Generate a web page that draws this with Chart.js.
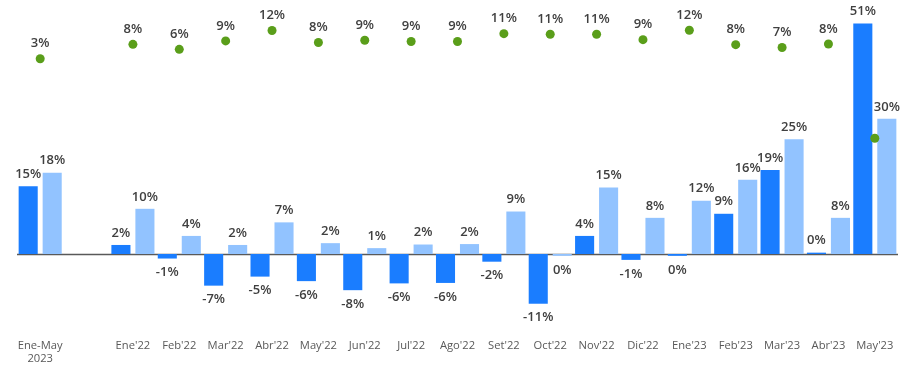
<!DOCTYPE html>
<html>
<head>
<meta charset="utf-8">
<script src="https://cdn.jsdelivr.net/npm/chart.js@4.4.1/dist/chart.umd.min.js"></script>
<style>
  html, body { margin: 0; padding: 0; background: #ffffff; }
  #wrap { width: 907px; height: 367px; }
</style>
</head>
<body>
<div id="wrap"><canvas id="c" width="907" height="367"></canvas></div>
<script>
// ---- data ----
const categories = [["Ene-May", "2023"], "", "Ene'22", "Feb'22", "Mar'22", "Abr'22", "May'22", "Jun'22", "Jul'22", "Ago'22", "Set'22", "Oct'22", "Nov'22", "Dic'22", "Ene'23", "Feb'23", "Mar'23", "Abr'23", "May'23"];
const seriesDark  = [15, null, 2, -1, -7, -5, -6, -8, -6.5, -6.4, -1.7, -11, 4, -1.3, -0.4, 8.9, 18.6, 0.3, 51];
const seriesLight = [18, null, 10, 4, 2, 7, 2.4, 1.3, 2.1, 2.2, 9.4, -0.4, 14.7, 8, 11.8, 16.4, 25.4, 8, 29.9];
const seriesDots  = [3, null, 7.6, 6, 8.7, 12, 8.2, 8.9, 8.5, 8.5, 11, 10.8, 10.8, 9.1, 12.1, 7.5, 6.6, 7.7, -22.4];
const dotsWithoutLabel = [18];

const fmt = v => `${Math.round(v)}%`;

const labelPlugin = {
  id: 'valueLabels',
  afterDatasetsDraw(chart) {
    const ctx = chart.ctx;
    ctx.save();
    ctx.font = '600 13px "Open Sans"';
    ctx.fillStyle = '#404040';
    ctx.textAlign = 'center';
    ctx.textBaseline = 'middle';
    [0, 1].forEach(di => {
      const meta = chart.getDatasetMeta(di);
      const data = chart.data.datasets[di].data;
      meta.data.forEach((el, i) => {
        const v = data[i];
        if (v === null || v === undefined) return;
        const y = v >= 0 ? el.y - 12 : el.y + 14;
        ctx.fillText(fmt(v), el.x, y);
      });
    });
    const meta = chart.getDatasetMeta(2);
    const data = chart.data.datasets[2].data;
    meta.data.forEach((el, i) => {
      const v = data[i];
      if (v === null || v === undefined) return;
      if (dotsWithoutLabel.includes(i)) return;
      ctx.fillText(fmt(v), el.x, el.y - 15);
    });
    ctx.restore();
  }
};

const zeroLinePlugin = {
  id: 'zeroLine',
  beforeDatasetsDraw(chart) {
    const ctx = chart.ctx;
    const y = Math.round(chart.scales.y.getPixelForValue(0)) + 0.5;
    ctx.save();
    ctx.strokeStyle = '#595959';
    ctx.lineWidth = 1.5;
    ctx.beginPath();
    ctx.moveTo(chart.chartArea.left, y);
    ctx.lineTo(chart.chartArea.right, y);
    ctx.stroke();
    ctx.restore();
  }
};

new Chart(document.getElementById('c'), {
  type: 'bar',
  data: {
    labels: categories,
    datasets: [
      {
        label: 'A',
        data: seriesDark,
        backgroundColor: '#1A7DFF',
        categoryPercentage: 1.035,
        barPercentage: 0.795,
        yAxisID: 'y',
        order: 2
      },
      {
        label: 'B',
        data: seriesLight,
        backgroundColor: '#92C3FF',
        categoryPercentage: 1.035,
        barPercentage: 0.795,
        yAxisID: 'y',
        order: 2
      },
      {
        type: 'line',
        label: 'C',
        data: seriesDots,
        showLine: false,
        pointRadius: 4.5,
        pointBackgroundColor: '#5A9E1A',
        pointBorderColor: '#5A9E1A',
        pointBorderWidth: 0,
        yAxisID: 'y2',
        order: 0
      }
    ]
  },
  options: {
    responsive: false,
    devicePixelRatio: 1,
    animation: false,
    layout: { autoPadding: false, padding: { left: 17, right: 9, top: 0, bottom: 0 } },
    plugins: {
      legend: { display: false },
      tooltip: { enabled: false }
    },
    scales: {
      x: {
        grid: { display: false, drawTicks: false },
        border: { display: false },
        ticks: {
          color: '#595959',
          font: { family: '"Open Sans"', size: 11.2 },
          padding: 9,
          maxRotation: 0,
          autoSkip: false
        },
        afterFit(axis) { axis.height = 37; }
      },
      y: {
        display: false,
        min: -16.81,
        max: 56.19
      },
      y2: {
        display: false,
        min: -83.67,
        max: 21.76
      }
    }
  },
  plugins: [zeroLinePlugin, labelPlugin]
});
</script>
</body>
</html>
